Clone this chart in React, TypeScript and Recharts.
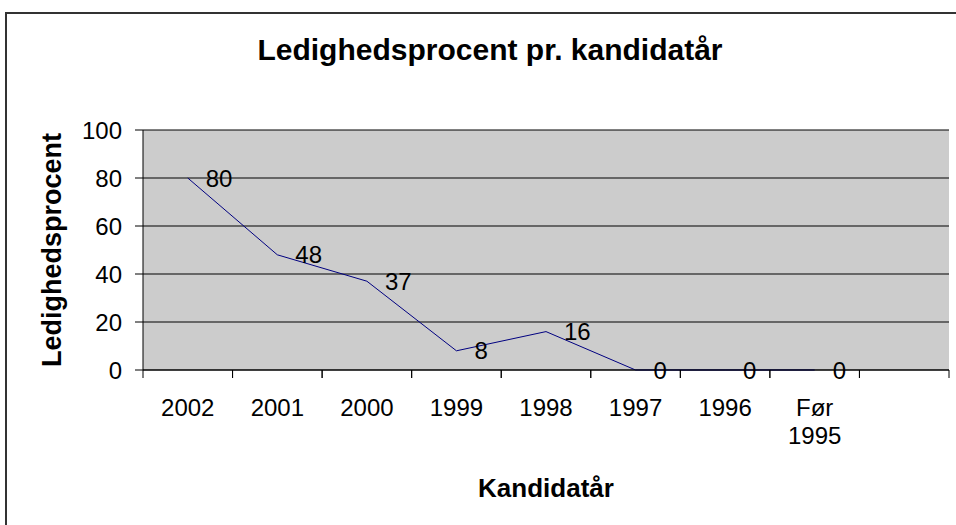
import { LineChart, Line, XAxis, YAxis, CartesianGrid, LabelList } from 'recharts'

const kandidatAar = ['2002', '2001', '2000', '1999', '1998', '1997', '1996', 'Før 1995', '']
const ledighedsprocent: Array<number | null> = [80, 48, 37, 8, 16, 0, 0, 0, null]
const yTicks = [0, 20, 40, 60, 80, 100]

const data = kandidatAar.map((aar, i) => ({ aar, procent: ledighedsprocent[i] }))

const FONT = '"Liberation Sans", Arial, sans-serif'

// category ticks sit between the categories, like the old Excel charts
function CategoryTick(props: any) {
  const { x, y, payload, width } = props
  const half = payload.offset || width / kandidatAar.length / 2
  const lines = String(payload.value).split(' ')
  return (
    <g>
      <line x1={x - half} y1={y} x2={x - half} y2={y + 8} stroke="#000" />
      <line x1={x + half} y1={y} x2={x + half} y2={y + 8} stroke="#000" />
      <text x={x} y={y + 46} textAnchor="middle" fontSize={24} fontFamily={FONT} fill="#000">
        {lines.map((l, i) => (
          <tspan key={i} x={x} dy={i === 0 ? 0 : 28}>{l}</tspan>
        ))}
      </text>
    </g>
  )
}

function PointLabel(props: any) {
  const { x, y, value } = props
  if (value == null) return null
  return (
    <text x={x + 18} y={y} dominantBaseline="central" fontSize={24} fontFamily={FONT} fill="#000">
      {value}
    </text>
  )
}

export default function App() {
  return (
    <div style={{ position: 'relative', width: 956, height: 525, overflow: 'hidden', background: '#fff', fontFamily: FONT }}>
      <style>{'body{margin:0}'}</style>
      <div style={{ position: 'absolute', left: 5, top: 12, width: 1000, height: 600, border: '2px solid #333', boxSizing: 'border-box' }} />
      <div style={{ position: 'absolute', left: 0, top: 35, width: 980, textAlign: 'center', fontSize: 30, lineHeight: '30px', fontWeight: 'bold', color: '#000' }}>
        Ledighedsprocent pr. kandidatår
      </div>
      <div style={{ position: 'absolute', left: 0, top: 0 }}>
        <LineChart width={956} height={525} data={data} margin={{ top: 130, right: 7, bottom: 0, left: 0 }}>
          <CartesianGrid vertical={false} stroke="#000" fill="#CCCCCC" fillOpacity={1} />
          <XAxis
            dataKey="aar"
            scale="band"
            height={155}
            interval={0}
            tickLine={false}
            tickSize={0}
            tickMargin={0}
            axisLine={{ stroke: '#000' }}
            tick={<CategoryTick />}
            label={(p: any) => {
              const vb = p.viewBox
              return (
                <text x={vb.x + vb.width / 2} y={vb.y + 127} textAnchor="middle" fontSize={26} fontWeight="bold" fontFamily={FONT} fill="#000">
                  Kandidatår
                </text>
              )
            }}
          />
          <XAxis xAxisId="top" dataKey="aar" scale="band" orientation="top" height={0} tick={false} tickLine={false} axisLine={{ stroke: '#808080' }} />
          <YAxis
            width={143}
            domain={[0, 100]}
            ticks={yTicks}
            tickSize={8}
            tickMargin={13}
            tickLine={{ stroke: '#000' }}
            axisLine={{ stroke: '#000' }}
            tick={{ fontSize: 24, fill: '#000', fontFamily: FONT }}
            label={(p: any) => {
              const vb = p.viewBox
              const cy = vb.y + vb.height / 2
              return (
                <text x={52} y={cy} transform={`rotate(-90 52 ${cy})`} textAnchor="middle" dominantBaseline="central" fontSize={27} fontWeight="bold" fontFamily={FONT} fill="#000">
                  Ledighedsprocent
                </text>
              )
            }}
          />
          <YAxis yAxisId="right" orientation="right" width={0} domain={[0, 100]} tick={false} tickLine={false} axisLine={{ stroke: '#808080' }} />
          <Line
            dataKey="procent"
            stroke="#000080"
            strokeWidth={1}
            dot={false}
            isAnimationActive={false}
          >
            <LabelList dataKey="procent" content={<PointLabel />} />
          </Line>
        </LineChart>
      </div>
    </div>
  )
}
